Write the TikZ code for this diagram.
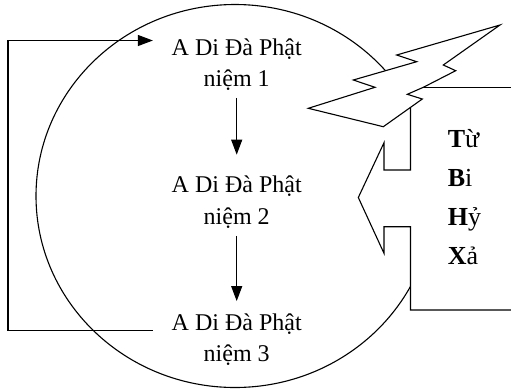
\documentclass[tikz,border=0pt]{standalone}
\usepackage{fontspec}
\setmainfont{Liberation Serif}
\usetikzlibrary{arrows.meta}
\begin{document}
\begin{tikzpicture}[x=1pt,y=-1pt,
  line width=1.1pt,
  txt/.style={align=center,inner sep=0pt,anchor=base,font=\fontsize{24}{31.7}\selectfont},
  conn/.style={-{Triangle[length=15pt,width=11pt]}},
  virt/.style={inner sep=0pt,anchor=base west,align=left,font=\fontsize{26}{38.9}\selectfont},
  ]
\useasboundingbox (0,0) rectangle (511,389);
% big circle
\draw (235,196) ellipse [x radius=199, y radius=191.5];
% white region of the block arrow
\fill[white] (423.3,87.3) -- (515,87.3) -- (515,310) -- (410.5,310) -- (410.5,226.7) -- (384,226.7) -- (384,253.3) -- (358.3,197.5) -- (384,142.7) -- (384,170) -- (410.5,170) -- (410.5,107.3) -- cycle;
% block arrow outline
\draw (423.3,87.3) -- (511,87.3);
\draw (410.5,107.3) -- (410.5,170) -- (384,170) -- (384,142.7) -- (358.3,197.5) -- (384,253.3) -- (384,226.7) -- (410.5,226.7) -- (410.5,310) -- (511,310);
% lightning
\draw[fill=white,line join=miter] (500,25) -- (443.3,65) -- (455.7,70.7) -- (423.3,87.3) -- (407.3,94.3) -- (422.3,99) -- (383.3,126.7) -- (308.3,108.3) -- (375,87.3) -- (353.3,80) -- (416.7,61.7) -- (396.7,55) -- cycle;
% text nodes (base = baseline of the last line)
\node[txt] (n1) at (236.7,86.7) {A Di Đà Phật\\niệm 1};
\node[txt] (n2) at (236.7,224) {A Di Đà Phật\\niệm 2};
\node[txt] (n3) at (236.7,361.7) {A Di Đà Phật\\niệm 3};
\node[virt] (virtues) at (447.3,264) {\textbf{T}ừ\\\textbf{B}i\\\textbf{H}ỷ\\\textbf{X}ả};
% arrows
\draw[conn, shorten <=6.6pt, shorten >=20.4pt] (n1.south) -- (n2.north);
\draw[conn, shorten <=7.3pt, shorten >=11.7pt] (n2.south) -- (n3.north);
\draw[conn] ([xshift=-18.3pt,yshift=31pt]n3.base west) -- (8,330.7) -- (8,40.5) -- ([xshift=-18.3pt,yshift=46.2pt]n1.base west);
\end{tikzpicture}
\end{document}
